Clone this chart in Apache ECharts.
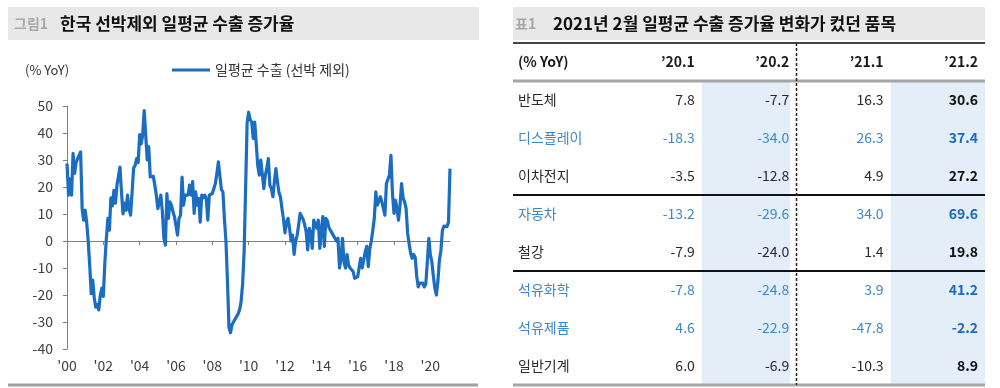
<!DOCTYPE html>
<html>
<head>
<meta charset="utf-8">
<script src="https://cdn.jsdelivr.net/npm/echarts/dist/echarts.min.js"></script>
<style>
html,body{margin:0;padding:0;background:#fff;}
#c{width:1000px;height:388px;}
</style>
</head>
<body>
<div id="c"></div>
<script>
// ---------------- Left chart data: 일평균 수출 (선박 제외), % YoY, monthly ----------------
const seriesName = '일평균 수출 (선박 제외)';
const startYear = 2000;
const labelEveryMonths = 24;
const y2000 = [28.7, 17, 23, 17, 32.5, 25, 29, 30.5, 31, 33, 12, 7.7];
const y2001 = [11.4, 7, 0, -9, -19.5, -14.5, -21, -24.5, -23.5, -25.5, -20, -17.5];
const y2002 = [-20.5, -8, 1, 8.4, 4, 16, 13, 18.8, 14, 20.7, 24, 27.4];
const y2003 = [18, 10, 14, 11.4, 17, 12, 9.6, 18, 27, 28, 30.5, 29];
const y2004 = [39.4, 36, 39.4, 48.3, 48, 30, 35, 23.7, 23, 24, 20.7, 17];
const y2005 = [12, 11.4, 17, 10.8, 1, -1.5, 17.6, 8.4, 14.5, 13.3, 10.8, 9];
const y2006 = [9, 2.2, 8.4, 9.6, 23.7, 13.3, 17, 17.6, 17, 20.7, 17, 22];
const y2007 = [10.2, 18.2, 13.3, 15.7, 7, 17, 16, 17, 15.7, 7.7, 17, 17.6];
const y2008 = [17.6, 18.2, 21.3, 25, 29.3, 24, 19, 18.2, 8, 0, -15, -32];
const y2009 = [-34, -31, -31, -29, -28.5, -27, -25.5, -22.4, -16, -4, 20, 44];
const y2010 = [47.7, 45, 44, 38, 44, 36, 28, 24.4, 30, 30.5, 19.4, 24.4];
const y2011 = [27, 30.5, 20.7, 19.4, 16.4, 22, 26.8, 22, 18, 16.4, 12, 8];
const y2012 = [3, 7, 8.4, 4.7, 0, 2.2, -5, 0, 2, 5.9, 10.2, 9.6];
const y2013 = [8, 6, 3.4, -3.3, 4.7, 3, -2.7, 7.7, 7, 4.7, 7.7, -2.7];
const y2014 = [4, 9, -2, 8.4, 7.5, 5, 4, 3, 2, 1, 0, 1];
const y2015 = [-10, -6.4, 1, -8, -10, -5, -9, -10, -10.7, -11.3, -13.8, -14.4];
const y2016 = [-13.2, -13, -6.4, -10, -9.5, -4, -2, -9.5, -3, 0, 4, 8.4];
const y2017 = [18.2, 13.3, 13.3, 16.4, 14.5, 14, 9.6, 21.3, 20.7, 24.4, 31.7, 17.5];
const y2018 = [10.2, 15.1, 12, 7.7, 13.3, 21.3, 16, 14.5, 12, 3, -1, -4.5];
const y2019 = [-6.4, -5, -6, -13, -17, -15.6, -16.2, -15.6, -17, -16, -8, 1];
const y2020 = [-5, -7.6, -13, -17.5, -20, -15, -7, -3.5, 4, 5.5, 5.3, 5.3];
const y2021 = [7, 26.8];
const yearlyValues = [y2000, y2001, y2002, y2003, y2004, y2005, y2006, y2007, y2008, y2009, y2010,
  y2011, y2012, y2013, y2014, y2015, y2016, y2017, y2018, y2019, y2020, y2021];
const yTicksMin = -40, yTicksMax = 50, yTickStep = 10;

// ---------------- Right table data ----------------
const tableColumns = ['\u201920.1', '\u201920.2', '\u201921.1', '\u201921.2'];
const tableUnit = '(% YoY)';
const itemGroups = [['반도체', '디스플레이', '이차전지'], ['자동차', '철강'], ['석유화학', '석유제품', '일반기계']];
const highlightItems = ['디스플레이', '자동차', '석유화학', '석유제품'];
const v20_1 = [7.8, -18.3, -3.5, -13.2, -7.9, -7.8, 4.6, 6.0];
const v20_2 = [-7.7, -34.0, -12.8, -29.6, -24.0, -24.8, -22.9, -6.9];
const v21_1 = [16.3, 26.3, 4.9, 34.0, 1.4, 3.9, -47.8, -10.3];
const v21_2 = [30.6, 37.4, 27.2, 69.6, 19.8, 41.2, -2.2, 8.9];
const shadedColumns = ['\u201920.2', '\u201921.2'];
const boldColumns = ['\u201921.2'];

// ---------------- build ----------------
const FONT = "'Noto Sans CJK KR', 'Noto Sans', sans-serif";
const values = [].concat.apply([], yearlyValues);
const months = values.map(function (_, i) {
  const y = startYear + Math.floor(i / 12);
  const m = (i % 12) + 1;
  return y + '-' + (m < 10 ? '0' + m : m);
});
const tableItems = [].concat.apply([], itemGroups);
const tableRows = [tableUnit].concat(tableItems);
const tableValueCols = [v20_1, v20_2, v21_1, v21_2];
const groupEndRows = [];
(function () { let acc = 0; itemGroups.forEach(function (g) { acc += g.length; groupEndRows.push(acc); }); })();
function everyLabel(idx) { return idx % labelEveryMonths === 0; }

const BLUE_LINE = '#1b6dc1';
const chart = echarts.init(document.getElementById('c'), null, { renderer: 'canvas' });

function renderTableRow(params, api) {
  const r = params.dataIndex;
  const size = api.size([1, 1]);
  const cw = size[0], ch = size[1];
  const cs = params.coordSys;
  const children = [];
  const isHeader = r === 0;
  const name = tableRows[r];
  const hl = highlightItems.indexOf(name) >= 0;
  const nCols = tableColumns.length + 1;
  for (let c = 0; c < nCols; c++) {
    const p = api.coord([c, r]);
    const x0 = p[0] - cw / 2, y0 = p[1] - ch / 2;
    const colName = c > 0 ? tableColumns[c - 1] : null;
    if (!isHeader && shadedColumns.indexOf(colName) >= 0) {
      const nextDashed = (c === 2);
      children.push({ type: 'rect', z2: 0,
        shape: { x: x0, y: y0, width: cw - (nextDashed ? 6 : 0), height: ch },
        style: { fill: '#e3eef9' } });
    }
    let txt, bold = false, color = '#1a1a1a', align = 'right', tx = x0 + cw - 7;
    if (c === 0) { txt = name; align = 'left'; tx = x0 + 5; bold = isHeader; }
    else if (isHeader) { txt = colName; bold = true; }
    else {
      txt = tableValueCols[c - 1][r - 1].toFixed(1);
      bold = boldColumns.indexOf(colName) >= 0;
    }
    if (!isHeader) {
      if (hl) color = bold ? '#1c6bb8' : '#3f88c8';
      else color = bold ? '#111111' : '#2a2a2a';
    }
    children.push({ type: 'text', z2: 20, x: tx, y: p[1],
      style: { text: txt, align: align, verticalAlign: 'middle', fill: color,
        font: (bold ? 'bold ' : '') + '14px ' + FONT } });
  }
  const top = api.coord([0, r])[1] - ch / 2;
  const bottom = top + ch;
  const xL = cs.x, xR = cs.x + cs.width;
  if (r === 0) {
    children.push({ type: 'line', z2: 15, shape: { x1: xL, y1: top, x2: xR, y2: top },
      style: { stroke: '#444', lineWidth: 2 } });
    children.push({ type: 'line', z2: 15, shape: { x1: xL, y1: bottom, x2: xR, y2: bottom },
      style: { stroke: '#a6a6a6', lineWidth: 3 } });
    const xd = Math.round(api.coord([3, 0])[0] - cw / 2) + 0.5;
    children.push({ type: 'line', z2: 16, shape: { x1: xd, y1: cs.y, x2: xd, y2: cs.y + cs.height },
      style: { stroke: '#222', lineWidth: 1.5, lineDash: [3, 2] } });
  } else if (r === tableRows.length - 1) {
    children.push({ type: 'line', z2: 15, shape: { x1: xL, y1: bottom, x2: xR, y2: bottom },
      style: { stroke: '#a6a6a6', lineWidth: 3 } });
  } else if (groupEndRows.indexOf(r) >= 0) {
    children.push({ type: 'line', z2: 15, shape: { x1: xL, y1: bottom, x2: xR, y2: bottom },
      style: { stroke: '#111', lineWidth: 2 } });
  }
  return { type: 'group', children: children };
}

const option = {
  animation: false,
  backgroundColor: '#ffffff',
  textStyle: { fontFamily: FONT },
  graphic: [
    { type: 'rect', shape: { x: 8, y: 7, width: 471, height: 33 }, style: { fill: '#e8e8e8' }, z: 0 },
    { type: 'text', x: 14, y: 24, style: { text: '그림1', fill: '#a8a8a8', font: 'bold 14px ' + FONT, verticalAlign: 'middle' } },
    { type: 'text', x: 60, y: 24, style: { text: '한국 선박제외 일평균 수출 증가율', fill: '#111', font: 'bold 17px ' + FONT, verticalAlign: 'middle' } },
    { type: 'rect', shape: { x: 513, y: 7, width: 472, height: 33 }, style: { fill: '#e8e8e8' }, z: 0 },
    { type: 'text', x: 515, y: 24, style: { text: '표1', fill: '#a8a8a8', font: 'bold 14px ' + FONT, verticalAlign: 'middle' } },
    { type: 'text', x: 553, y: 24, style: { text: '2021년 2월 일평균 수출 증가율 변화가 컸던 품목', fill: '#111', font: 'bold 17px ' + FONT, verticalAlign: 'middle' } },
    { type: 'text', x: 25, y: 70, style: { text: '(% YoY)', fill: '#333', font: '13px ' + FONT, verticalAlign: 'middle' } },
    { type: 'line', shape: { x1: 8, y1: 385, x2: 478, y2: 385 }, style: { stroke: '#a0a0a0', lineWidth: 3 } }
  ],
  legend: {
    data: [seriesName], left: 172, top: 63, icon: 'rect', itemWidth: 38, itemHeight: 3,
    textStyle: { fontSize: 14, color: '#333', fontFamily: FONT }, padding: 0
  },
  grid: [
    { left: 67, right: 550, top: 106, bottom: 39, containLabel: false, outerBoundsMode: 'none' },
    { left: 513, top: 43, width: 472, height: 342, containLabel: false, outerBoundsMode: 'none' }
  ],
  xAxis: [
    { type: 'category', gridIndex: 0, data: months, boundaryGap: false,
      axisLine: { show: false, onZero: false }, axisTick: { show: false },
      axisLabel: { interval: everyLabel, hideOverlap: false, margin: 10, fontSize: 14, color: '#404040', fontFamily: FONT,
        formatter: function (v) { return "'" + v.slice(2, 4); } },
      splitLine: { show: false } },
    { type: 'category', gridIndex: 0, data: months, boundaryGap: false, position: 'top',
      axisLine: { show: true, onZero: true, lineStyle: { color: '#808080', width: 1 } },
      axisTick: { show: true, interval: everyLabel, inside: true, length: 4, lineStyle: { color: '#808080' } },
      axisLabel: { show: false }, splitLine: { show: false } },
    { type: 'category', gridIndex: 1, data: [''].concat(tableColumns), show: false }
  ],
  yAxis: [
    { type: 'value', gridIndex: 0, min: yTicksMin, max: yTicksMax, interval: yTickStep,
      axisLine: { show: true, onZero: false, lineStyle: { color: '#808080', width: 1 } },
      axisTick: { show: true, length: 4, lineStyle: { color: '#808080' } },
      axisLabel: { fontSize: 14, color: '#404040', margin: 14, fontFamily: FONT },
      splitLine: { show: false } },
    { type: 'category', gridIndex: 1, data: tableRows, inverse: true, show: false }
  ],
  series: [
    { type: 'line', name: seriesName, xAxisIndex: 0, yAxisIndex: 0, data: values,
      showSymbol: false, symbol: 'none', z: 5,
      lineStyle: { width: 3.2, color: BLUE_LINE, join: 'round' }, itemStyle: { color: BLUE_LINE } },
    { type: 'custom', xAxisIndex: 2, yAxisIndex: 1, silent: true,
      data: tableRows.map(function (_, i) { return [0, i]; }),
      renderItem: renderTableRow }
  ]
};
chart.setOption(option);
</script>
</body>
</html>
